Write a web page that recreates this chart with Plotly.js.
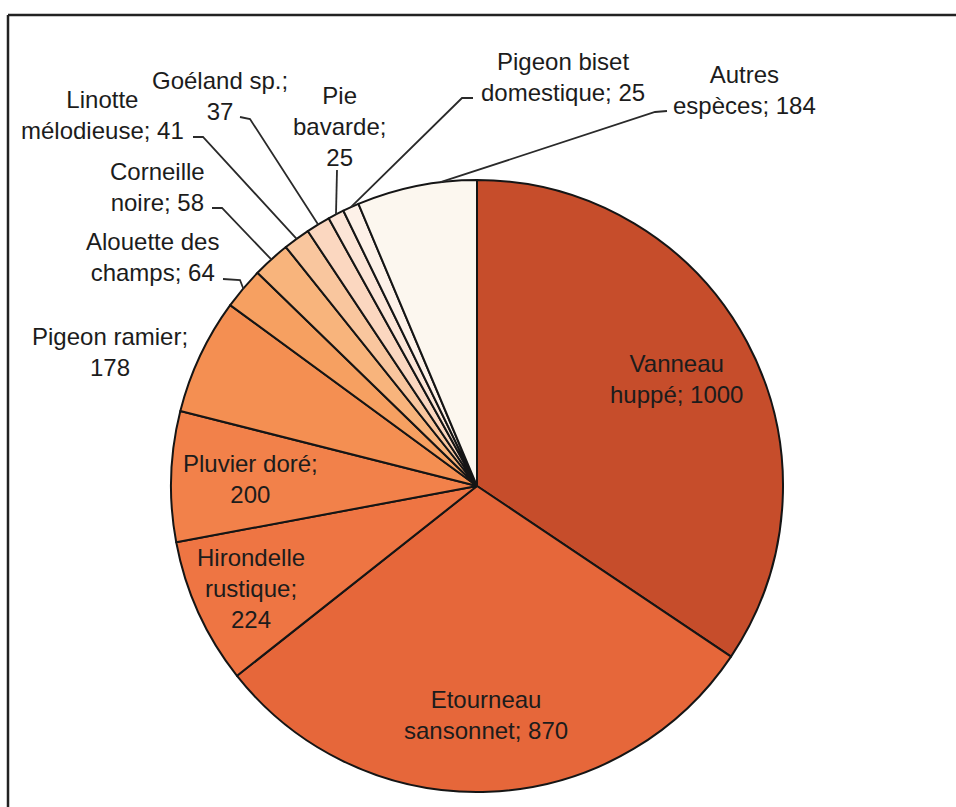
<!DOCTYPE html>
<html>
<head>
<meta charset="utf-8">
<script src="https://cdn.plot.ly/plotly-3.0.1.min.js"></script>
<style>
  html, body { margin: 0; padding: 0; background: #ffffff; }
  #chart { width: 956px; height: 807px; }
</style>
</head>
<body>
<div id="chart"></div>
<script>
// Species counted (clockwise from 12 o'clock); "\n" marks where the label wraps
const names = [
  'Vanneau\nhuppé',
  'Etourneau\nsansonnet',
  'Hirondelle\nrustique',
  'Pluvier doré',
  'Pigeon ramier',
  'Alouette des\nchamps',
  'Corneille\nnoire',
  'Linotte\nmélodieuse',
  'Goéland sp.',
  'Pie\nbavarde',
  'Pigeon biset\ndomestique',
  'Autres\nespèces'
];
const values = [1000, 870, 224, 200, 178, 64, 58, 41, 37, 25, 25, 184];
// whether the count goes on its own line in the label
const valueOnNewLine = [false, false, true, true, true, false, false, false, true, true, false, false];
const colors = [
  '#c64d2b', '#e6673a', '#ee7543', '#f2814a', '#f48f52', '#f6a061',
  '#f8b47c', '#f9c69e', '#fbd7c0', '#fce5d7', '#fdf1e8', '#fcf7ef'
];

const W = 956, H = 807;
const CX = 477, CY = 486, R = 306;          // pie centre and radius in pixels
const px = x => x / W;
const py = y => 1 - y / H;

const total = values.reduce((a, b) => a + b, 0);
const starts = [];
let acc = 0;
values.forEach(v => { starts.push(acc / total * 360); acc += v; });
// point at fraction f across slice i, at k times the radius
function pointAt(i, f, k) {
  const a = (starts[i] + f * values[i] / total * 360) * Math.PI / 180;
  return [CX + k * R * Math.sin(a), CY - k * R * Math.cos(a)];
}
const labelText = i =>
  names[i].replace('\n', '<br>') + ';' + (valueOnNewLine[i] ? '<br>' : ' ') + values[i];

const font = { family: 'Liberation Sans, Arial, sans-serif', size: 24, color: '#1c1c1c' };

const annotations = [];
const shapes = [];

// labels drawn inside the big slices (radial position as fraction of radius)
const insideLabels = [
  { i: 0, k: 0.74 },
  { i: 1, k: 0.75 },
  { i: 2, k: 0.81 },
  { i: 3, k: 0.74 }
];
insideLabels.forEach(o => {
  const [x, y] = pointAt(o.i, 0.5, o.k);
  annotations.push({
    xref: 'paper', yref: 'paper', x: px(x), y: py(y),
    xanchor: 'center', yanchor: 'middle', showarrow: false, align: 'center',
    text: labelText(o.i), font: font
  });
});

// labels outside the pie, with leader lines ending on the slice edge
const outsideLabels = [
  { i: 4,  at: [110, 352] },
  { i: 5,  at: [152, 257], path: [[223, 279], [240, 280]] },
  { i: 6,  at: [157, 187], path: [[212, 208], [222, 208]] },
  { i: 7,  at: [102, 115], path: [[193, 137], [203, 137]] },
  { i: 8,  at: [220, 96],  path: [[240, 117], [250, 119]] },
  { i: 9,  at: [339, 127], path: [[337, 170]] },
  { i: 10, at: [563, 77],  path: [[473, 98], [462, 98]] },
  { i: 11, at: [744, 90],  path: [[667, 111], [655, 112]], f: 0.7 }
];
outsideLabels.forEach(o => {
  annotations.push({
    xref: 'paper', yref: 'paper', x: px(o.at[0]), y: py(o.at[1]),
    xanchor: 'center', yanchor: 'middle', showarrow: false, align: 'center',
    text: labelText(o.i), font: font
  });
  if (o.path) {
    const pts = o.path.concat([pointAt(o.i, o.f === undefined ? 0.5 : o.f, 1)]);
    const d = pts.map((p, j) => (j ? 'L' : 'M') + px(p[0]).toFixed(5) + ',' + py(p[1]).toFixed(5)).join(' ');
    shapes.push({
      type: 'path', xref: 'paper', yref: 'paper', path: d,
      line: { color: '#2a2a2a', width: 1.8 }
    });
  }
});

// frame around the figure (top and left edges)
shapes.push({ type: 'line', xref: 'paper', yref: 'paper',
  x0: px(8), y0: py(15), x1: px(960), y1: py(15), line: { color: '#222', width: 2.5 } });
shapes.push({ type: 'line', xref: 'paper', yref: 'paper',
  x0: px(8), y0: py(15), x1: px(8), y1: py(812), line: { color: '#222', width: 2.5 } });

const trace = {
  type: 'pie',
  labels: names.map(n => n.replace('\n', ' ')),
  values: values,
  sort: false,
  direction: 'clockwise',
  rotation: 0,
  textinfo: 'none',
  hoverinfo: 'label+value',
  marker: { colors: colors, line: { color: '#151515', width: 2 } },
  domain: { x: [px(CX - R), px(CX + R)], y: [py(CY + R), py(CY - R)] },
  showlegend: false
};

const layout = {
  width: W, height: H,
  margin: { l: 0, r: 0, t: 0, b: 0 },
  paper_bgcolor: '#ffffff',
  showlegend: false,
  annotations: annotations,
  shapes: shapes
};

Plotly.newPlot('chart', [trace], layout, { displayModeBar: false, staticPlot: true });
</script>
</body>
</html>
